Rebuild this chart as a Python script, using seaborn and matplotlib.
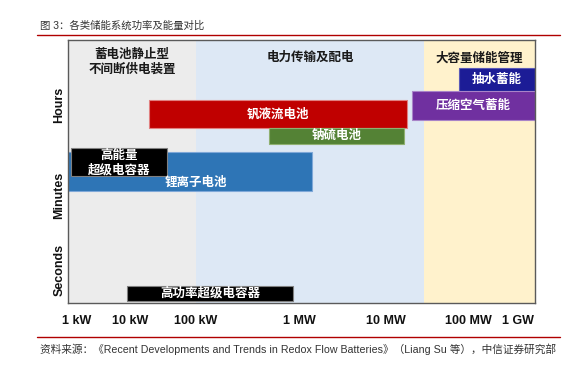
import matplotlib
matplotlib.use("Agg")
import matplotlib.pyplot as plt
import seaborn as sns
from matplotlib.lines import Line2D

# eixo x: posição relativa das potências (escala desenhada à mão, não uniforme)
power_labels = ["1 kW", "10 kW", "100 kW", "1 MW", "10 MW", "100 MW", "1 GW"]
power_pos = [0.9, 6.2, 12.8, 23.1, 31.8, 40.0, 45.0]
time_labels = ["Seconds", "Minutes", "Hours"]
time_pos = [3.3, 10.8, 19.8]

# faixas de aplicação
zone_names = ["蓄电池静止型\n不间断供电装置", "电力传输及配电", "大容量储能管理"]
zone_start = [0.0, 12.8, 35.6]
zone_end = [12.8, 35.6, 46.7]

# tecnologias: potência (início/fim) e tempo de descarga (base/topo)
tech_names = ["抽水蓄能", "压缩空气蓄能", "钒液流电池", "钠硫电池",
              "锂离子电池", "高能量\n超级电容器", "高功率超级电容器"]
tech_left = [39.1, 34.4, 8.1, 20.1, 0.0, 0.3, 5.9]
tech_right = [46.7, 46.7, 33.9, 33.6, 24.4, 9.9, 22.5]
tech_bottom = [21.2, 18.3, 17.5, 15.9, 11.2, 12.7, 0.2]
tech_top = [23.5, 21.2, 20.3, 17.5, 15.1, 15.5, 1.7]

sns.set_theme(style="white")
plt.rcParams["font.family"] = ["Liberation Sans", "Noto Sans CJK SC", "DejaVu Sans"]

zone_colors = ["#ececec", "#dde8f5", "#fff2cc"]
tech_colors = ["#1c1c96", "#7030a0", "#c00000", "#548235", "#2e75b6", "#000000", "#000000"]
tech_edges = ["#5a5ab8", "#a884c8", "#e08080", "#8fb070", "#7fa8d8", "#808080", "#808080"]

fig = plt.figure(figsize=(5.82, 3.67), dpi=100)
ax = fig.add_axes([68 / 582, 64 / 367, 467 / 582, 263 / 367])

for name, x0, x1, col in zip(zone_names, zone_start, zone_end, zone_colors):
    ax.axvspan(x0, x1, color=col, zorder=0, lw=0)
    ax.text((x0 + x1) / 2, 24.1 if "\n" in name else 24.5, name, ha="center", va="center",
            fontsize=9, fontweight="bold", color="#1a1a1a", linespacing=1.3)

for i, name in enumerate(tech_names):
    w = tech_right[i] - tech_left[i]
    h = tech_top[i] - tech_bottom[i]
    ax.bar(tech_left[i], h, width=w, bottom=tech_bottom[i], align="edge",
           color=tech_colors[i], edgecolor=tech_edges[i], linewidth=0.8, zorder=2 if i != 5 else 3)
    cx = tech_left[i] + w / 2
    cy = tech_bottom[i] + h / 2
    if name == "锂离子电池":
        cx, cy = 12.8, tech_bottom[i] + 0.8
    elif "\n" in name:
        cy -= 0.15
    ax.text(cx, cy, name, ha="center", va="center", color="white", fontsize=9,
            fontweight="bold", linespacing=1.2, zorder=4)

ax.set_xlim(0, 46.7)
ax.set_ylim(0, 26.3)
ax.set_xticks(power_pos)
ax.set_xticklabels(power_labels, fontsize=9, fontweight="bold", color="#111111")
ax.set_yticks(time_pos)
ax.set_yticklabels(time_labels, fontsize=9, fontweight="bold", color="#111111",
                   rotation=90, va="center")
ax.tick_params(axis="x", length=0, pad=9)
ax.tick_params(axis="y", length=0, pad=2)
for s in ax.spines.values():
    s.set_color("#5a5a5a")
    s.set_linewidth(1.0)
ax.grid(False)

fig.text(40 / 582, 1 - 26 / 367, "图 3：各类储能系统功率及能量对比", fontsize=7.5,
         color="#333333", va="center", ha="left")
fig.add_artist(Line2D([37 / 582, 560 / 582], [1 - 35 / 367] * 2, color="#b00000", lw=1.0))
fig.add_artist(Line2D([37 / 582, 560 / 582], [1 - 337 / 367] * 2, color="#b00000", lw=1.0))
fig.text(40 / 582, 1 - 349 / 367,
         "资料来源：《Recent Developments and Trends in Redox Flow Batteries》（Liang Su 等），中信证券研究部",
         fontsize=7.7, color="#333333", va="center", ha="left")

fig.savefig("out.png", dpi=100)
